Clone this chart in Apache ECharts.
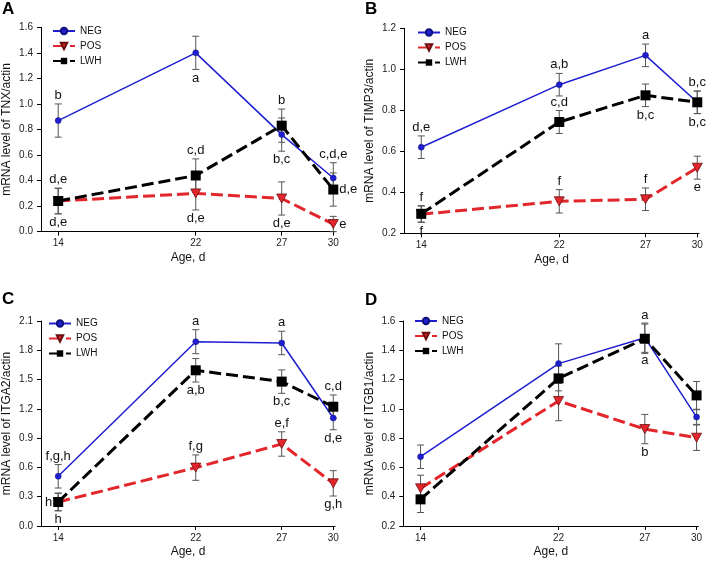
<!DOCTYPE html>
<html><head><meta charset="utf-8">
<script src="https://cdn.jsdelivr.net/npm/echarts@6/dist/echarts.min.js"></script>
<style>html,body{margin:0;padding:0;background:#fff}#c{width:709px;height:562px}</style>
</head><body><div id="c"></div>
<script>
// ---------- data ----------
const ages = [14, 22, 27, 30];
const xTickValues = [14, 22, 27, 30];
const seriesNames = ['NEG', 'POS', 'LWH'];
const panelLetters = ['A', 'B', 'C', 'D'];
const yAxisTitles = ['mRNA level of TNX/actin', 'mRNA level of TIMP3/actin', 'mRNA level of ITGA2/actin', 'mRNA level of ITGB1/actin'];
const xAxisTitle = 'Age, d';

// A: TNX
const tnxNEG = [0.87, 1.40, 0.76, 0.42];
const tnxNEGerr = [0.13, 0.13, 0.13, 0.12];
const tnxPOS = [0.24, 0.30, 0.26, 0.06];
const tnxPOSerr = [0.10, 0.13, 0.13, 0.06];
const tnxLWH = [0.24, 0.44, 0.83, 0.33];
const tnxLWHerr = [0.10, 0.13, 0.13, 0.13];
const tnxNEGsig = ['b', 'a', 'b,c', 'c,d,e'];
const tnxPOSsig = ['d,e', 'd,e', 'd,e', 'e'];
const tnxLWHsig = ['d,e', 'c,d', 'b', 'd,e'];

// B: TIMP3
const timpNEG = [0.62, 0.925, 1.068, 0.839];
const timpNEGerr = [0.055, 0.055, 0.055, 0.055];
const timpPOS = [0.293, 0.356, 0.366, 0.52];
const timpPOSerr = [0.04, 0.057, 0.055, 0.056];
const timpLWH = [0.295, 0.743, 0.873, 0.839];
const timpLWHerr = [0.04, 0.056, 0.055, 0.055];
const timpNEGsig = ['d,e', 'a,b', 'a', 'b,c'];
const timpPOSsig = ['f', 'f', 'f', 'e'];
const timpLWHsig = ['f', 'c,d', 'b,c', 'b,c'];

// C: ITGA2
const itga2NEG = [0.509, 1.888, 1.875, 1.106];
const itga2NEGerr = [0.12, 0.123, 0.12, 0.12];
const itga2POS = [0.246, 0.598, 0.84, 0.437];
const itga2POSerr = [0.09, 0.13, 0.125, 0.13];
const itga2LWH = [0.246, 1.595, 1.479, 1.222];
const itga2LWHerr = [0.09, 0.12, 0.12, 0.12];
const itga2NEGsig = ['f,g,h', 'a', 'a', 'd,e'];
const itga2POSsig = ['h', 'f,g', 'e,f', 'g,h'];
const itga2LWHsig = ['h', 'a,b', 'b,c', 'c,d'];

// D: ITGB1
const itgb1NEG = [0.673, 1.309, 1.486, 0.944];
const itgb1NEGerr = [0.08, 0.135, 0.1, 0.05];
const itgb1POS = [0.457, 1.054, 0.862, 0.803];
const itgb1POSerr = [0.09, 0.135, 0.1, 0.087];
const itgb1LWH = [0.382, 1.208, 1.479, 1.092];
const itgb1LWHerr = [0.09, 0.085, 0.1, 0.095];
const itgb1NEGsig = ['', '', 'a', ''];
const itgb1POSsig = ['', '', 'b', ''];
const itgb1LWHsig = ['', '', 'a', ''];

// ---------- layout / style ----------
const FONT = '"Liberation Sans", Arial, sans-serif';
const panels = [
  { vals: [tnxNEG, tnxPOS, tnxLWH], errs: [tnxNEGerr, tnxPOSerr, tnxLWHerr], sigs: [tnxNEGsig, tnxPOSsig, tnxLWHsig],
    place: [['t','b','b','t'], ['b','b','b','r'], ['t','t','t','r']],
    y: [0, 1.6, 0.2], grid: { left: 41, top: 27.3, width: 294, height: 204.4 },
    legend: { left: 52, top: 26 }, letter: [2, 1] },
  { vals: [timpNEG, timpPOS, timpLWH], errs: [timpNEGerr, timpPOSerr, timpLWHerr], sigs: [timpNEGsig, timpPOSsig, timpLWHsig],
    place: [['t','t','t','t'], ['b','t','t','b'], ['t','t','b','b']],
    y: [0.2, 1.2, 0.2], grid: { left: 404, top: 28.3, width: 295, height: 205 },
    legend: { left: 417, top: 27.5 }, letter: [365, 1] },
  { vals: [itga2NEG, itga2POS, itga2LWH], errs: [itga2NEGerr, itga2POSerr, itga2LWHerr], sigs: [itga2NEGsig, itga2POSsig, itga2LWHsig],
    place: [['t','t','t','b'], ['b','t','t','b'], ['l','b','b','t']],
    y: [0, 2.1, 0.3], grid: { left: 41, top: 321, width: 294, height: 205 },
    legend: { left: 48, top: 318.5 }, letter: [2, 291] },
  { vals: [itgb1NEG, itgb1POS, itgb1LWH], errs: [itgb1NEGerr, itgb1POSerr, itgb1LWHerr], sigs: [itgb1NEGsig, itgb1POSsig, itgb1LWHsig],
    place: [['t','t','b','t'], ['t','t','b','t'], ['t','t','t','t']],
    y: [0.2, 1.6, 0.2], grid: { left: 403.3, top: 321, width: 295, height: 205 },
    legend: { left: 414, top: 316 }, letter: [365, 292] }
];

const seriesStyle = [
  { color: '#1f1fd1', lineStyle: { color: '#1f1fd1', width: 1.5, type: 'solid' }, symbol: 'circle', symbolSize: 6,
    itemStyle: { color: '#1f1fd1', borderColor: '#10107a', borderWidth: 0.5 } },
  { color: '#e3262b', lineStyle: { color: '#e3262b', width: 3, type: [12, 5] }, symbol: 'path://M0,0 L10,0 L5,9 Z', symbolSize: [10, 9],
    itemStyle: { color: '#e3262b', borderColor: '#6a0d0d', borderWidth: 0.8 } },
  { color: '#000', lineStyle: { color: '#000', width: 3, type: [12, 5] }, symbol: 'rect', symbolSize: 10,
    itemStyle: { color: '#000' } }
];

const grids = [], xAxes = [], yAxes = [], legends = [], series = [], graphics = [];

panels.forEach((p, k) => {
  grids.push(Object.assign({ containLabel: false }, p.grid));
  xAxes.push({
    gridIndex: k, type: 'value', min: 13, max: 30.1,
    name: xAxisTitle, nameLocation: 'middle', nameGap: 20,
    nameTextStyle: { fontSize: 12, color: '#111', fontFamily: FONT },
    axisLine: { show: true, lineStyle: { color: '#000', width: 1 } },
    axisTick: { show: true, length: 4, inside: false, customValues: xTickValues, lineStyle: { color: '#000' } },
    axisLabel: { fontSize: 10, color: '#222', fontFamily: FONT, margin: 7, customValues: xTickValues },
    splitLine: { show: false }
  });
  yAxes.push({
    gridIndex: k, type: 'value', min: p.y[0], max: p.y[1], interval: p.y[2],
    name: yAxisTitles[k], nameLocation: 'middle', nameGap: 28, nameRotate: 90,
    nameTextStyle: { fontSize: 12, color: '#111', fontFamily: FONT },
    axisLine: { show: true, lineStyle: { color: '#000', width: 1 } },
    axisTick: { show: true, length: 4, inside: false, lineStyle: { color: '#000' } },
    axisLabel: { fontSize: 10, color: '#222', fontFamily: FONT, margin: 8, formatter: v => v.toFixed(1) },
    splitLine: { show: false }
  });
  legends.push({
    left: p.legend.left, top: p.legend.top, orient: 'vertical', align: 'left',
    itemWidth: 22, itemHeight: 8, itemGap: 5, padding: 0,
    textStyle: { fontSize: 10, color: '#111', fontFamily: FONT },
    data: seriesNames, selectedMode: false
  });
  graphics.push({ type: 'text', left: p.letter[0], top: p.letter[1],
    style: { text: panelLetters[k], font: 'bold 17px ' + FONT, fill: '#000' } });

  seriesNames.forEach((nm, s) => {
    const vals = p.vals[s], errs = p.errs[s], sig = p.sigs[s], place = p.place[s];
    const pts = ages.map((a, i) => [a, vals[i]]);
    // error bars
    series.push({
      type: 'custom', name: 'err' + k + nm, xAxisIndex: k, yAxisIndex: k, z: 1, clip: false, silent: true,
      data: pts, encode: { x: 0, y: 1 },
      renderItem: (params, api) => {
        const i = params.dataIndex;
        const top = api.coord([ages[i], vals[i] + errs[i]]);
        const bot = api.coord([ages[i], Math.max(p.y[0], vals[i] - errs[i])]);
        const hw = 3.5, st = { stroke: '#555', lineWidth: 1 };
        return { type: 'group', children: [
          { type: 'line', shape: { x1: top[0], y1: top[1], x2: bot[0], y2: bot[1] }, style: st },
          { type: 'line', shape: { x1: top[0] - hw, y1: top[1], x2: top[0] + hw, y2: top[1] }, style: st },
          { type: 'line', shape: { x1: bot[0] - hw, y1: bot[1], x2: bot[0] + hw, y2: bot[1] }, style: st }
        ] };
      }
    });
    // line
    const st = seriesStyle[s];
    series.push({
      type: 'line', name: nm, xAxisIndex: k, yAxisIndex: k, z: 3 + s, data: pts,
      symbol: st.symbol, symbolSize: st.symbolSize, showSymbol: true, showAllSymbol: true,
      lineStyle: st.lineStyle, itemStyle: st.itemStyle, color: st.color, animation: false, silent: true
    });
    // significance letters
    series.push({
      type: 'custom', name: 'sig' + k + nm, xAxisIndex: k, yAxisIndex: k, z: 10, clip: false, silent: true,
      data: pts, encode: { x: 0, y: 1 },
      renderItem: (params, api) => {
        const i = params.dataIndex;
        if (!sig[i]) return null;
        const pl = place[i];
        let pt, align = 'center', va = 'middle', dx = 0, dy = 0;
        if (pl === 't') { pt = api.coord([ages[i], vals[i] + errs[i]]); va = 'bottom'; dy = -2; }
        else if (pl === 'b') { pt = api.coord([ages[i], vals[i] - errs[i]]); va = 'top'; dy = 2; }
        else if (pl === 'r') { pt = api.coord([ages[i], vals[i]]); align = 'left'; dx = 6; }
        else { pt = api.coord([ages[i], vals[i]]); align = 'right'; dx = -6; }
        return { type: 'text', x: pt[0] + dx, y: pt[1] + dy,
          style: { text: sig[i], align: align, verticalAlign: va, fontSize: 13, fontFamily: FONT, fill: '#111' } };
      }
    });
  });
});

const chart = echarts.init(document.getElementById('c'), null, { renderer: 'canvas' });
chart.setOption({
  animation: false,
  backgroundColor: '#fff',
  grid: grids, xAxis: xAxes, yAxis: yAxes, legend: legends, series: series, graphic: graphics
});
</script>
</body></html>
